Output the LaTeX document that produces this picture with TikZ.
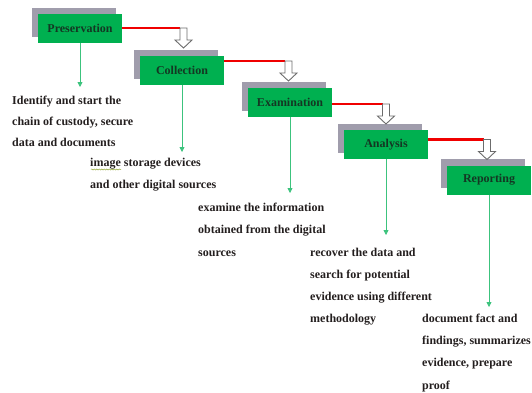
\documentclass[tikz,border=0pt]{standalone}
\usepackage{fontspec}
\setmainfont{Liberation Serif}
\usetikzlibrary{arrows.meta,calc,shadows,decorations.pathmorphing}
\definecolor{stepgreen}{RGB}{0,176,80}
\definecolor{stepgray}{RGB}{160,157,172}
\definecolor{steplabel}{RGB}{20,55,35}
\definecolor{linkred}{RGB}{240,0,0}
\definecolor{pointgreen}{RGB}{60,195,125}
\definecolor{notetext}{RGB}{35,30,30}
\definecolor{squig}{RGB}{150,170,60}

\tikzset{dropdown/.pic={
  \draw[hollow] (-3.5,0) -- (-3.5,12) -- (-8.5,12) -- (0,20) -- (8.5,12) -- (3.5,12) -- (3.5,0) -- cycle;
}}

\begin{document}
\begin{tikzpicture}[x=1pt,y=-1pt,
    stepbox/.style={fill=stepgreen, minimum width=84pt, minimum height=29pt, inner sep=0pt, font=\fontsize{12}{14}\selectfont\bfseries, text=steplabel, copy shadow={shadow xshift=-6.5pt, shadow yshift=6.5pt, fill=stepgray, draw=none}},
    link/.style={draw=linkred, line width=2.2pt},
    hollow/.style={draw=gray!85!black, fill=white, line width=0.9pt, line join=miter},
    pointer/.style={draw=pointgreen, line width=0.8pt, -{Triangle[width=5pt,length=5pt]}},
    note/.style={anchor=base west, inner sep=0pt, align=left, text=notetext, font=\fontsize{12}{22}\selectfont\bfseries},
    squiggle/.style={draw=squig, line width=0.5pt, decorate, decoration={snake, amplitude=0.6pt, segment length=2.5pt}}
  ]
  \useasboundingbox (0,0) rectangle (532,392);

  % stage boxes
  \node[stepbox] (pres) at (80,28.5) {Preservation};
  \node[stepbox] (coll) at (182,70.5) {Collection};
  \node[stepbox] (exam) at (290,102.5) {Examination};
  \node[stepbox] (anal) at (386,144.5) {Analysis};
  \node[stepbox] (rep) at (489,180) {Reporting};

  % hand-over arrows between stages
  \coordinate (h1) at (183.5,28);
  \coordinate (h2) at (288.5,61);
  \coordinate (h3) at (386,104);
  \coordinate (h4) at (487,139.5);
  \draw[link] (pres.east |- h1) -- ($(h1)+(-3.5,0)$);
  \draw[link] (coll.east |- h2) -- ($(h2)+(-3.5,0)$);
  \draw[link] (exam.east |- h3) -- ($(h3)+(-3.5,0)$);
  \draw[link] (anal.east |- h4) -- ($(h4)+(-3.5,0)$);
  \pic at (h1) {dropdown};
  \pic at (h2) {dropdown};
  \pic at (h3) {dropdown};
  \pic at (h4) {dropdown};

  % stage descriptions (placed at the baseline of their last line)
  \node[note, font=\fontsize{12}{21}\selectfont\bfseries] (n1) at (12,146) {Identify and start the\\chain of custody, secure\\data and documents};
  \node[note] (n2) at (90,188) {image storage devices\\and other digital sources};
  \node[note, font=\fontsize{12}{22.5}\selectfont\bfseries] (n3) at (198,256) {examine the information\\obtained from the digital\\sources};
  \node[note] (n4) at (310,322) {recover the data and\\search for potential\\evidence using different\\methodology};
  \node[note, font=\fontsize{12}{22.3}\selectfont\bfseries] (n5) at (422,389) {document fact and\\findings, summarizes\\evidence, prepare\\proof};
  \coordinate (sq) at (91,169.5);
  \draw[squiggle] (sq) -- ++(30,0);

  % pointers to descriptions
  \coordinate (t1) at (80,87);
  \coordinate (t2) at (182,152);
  \coordinate (t3) at (290,193);
  \coordinate (t4) at (386,235);
  \coordinate (t5) at (489,307);
  \draw[pointer] (pres.south) -- (t1);
  \draw[pointer] (coll.south) -- (t2);
  \draw[pointer] (exam.south) -- (t3);
  \draw[pointer] (anal.south) -- (t4);
  \draw[pointer] (rep.south) -- (t5);
\end{tikzpicture}
\end{document}
